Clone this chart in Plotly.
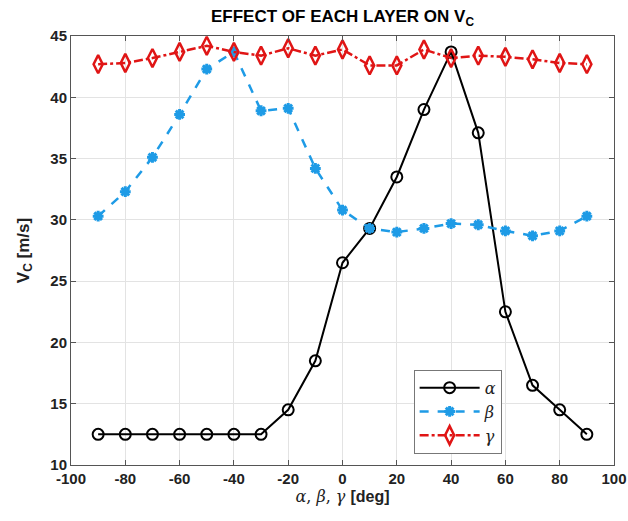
import plotly.graph_objects as go

angles = [-90, -80, -70, -60, -50, -40, -30, -20, -10, 0, 10, 20, 30, 40, 50, 60, 70, 80, 90]
alpha_v = [12.5, 12.5, 12.5, 12.5, 12.5, 12.5, 12.5, 14.5, 18.5, 26.5, 29.3, 33.5, 39.0, 43.7, 37.1, 22.5, 16.5, 14.5, 12.5]
beta_v = [30.3, 32.3, 35.1, 38.6, 42.3, 43.7, 38.9, 39.1, 34.2, 30.8, 29.3, 29.0, 29.3, 29.7, 29.6, 29.1, 28.7, 29.1, 30.3]
gamma_v = [42.7, 42.8, 43.2, 43.7, 44.2, 43.7, 43.4, 44.0, 43.4, 43.9, 42.6, 42.6, 43.9, 43.2, 43.4, 43.3, 43.1, 42.8, 42.7]

x_ticks = [-100, -80, -60, -40, -20, 0, 20, 40, 60, 80, 100]
x_tick_labels = ["-100", "-80", "-60", "-40", "-20", "0", "20", "40", "60", "80", "100"]
y_ticks = [10, 15, 20, 25, 30, 35, 40, 45]
y_tick_labels = ["10", "15", "20", "25", "30", "35", "40", "45"]

greek_font = dict(family="DejaVu Serif", size=16, color="#222", style="italic")

fig = go.Figure()
fig.add_trace(go.Scatter(
    x=angles, y=alpha_v, name="α", mode="lines+markers",
    line=dict(color="black", width=2),
    marker=dict(symbol="circle-open", size=11, color="black", line=dict(width=2)),
))
fig.add_trace(go.Scatter(
    x=angles, y=beta_v, name="β", mode="lines+markers",
    line=dict(color="#1e9be6", width=2.5, dash="dash"),
    marker=dict(symbol="asterisk-open", size=9, color="#1e9be6", line=dict(width=3, color="#1e9be6")),
))
fig.add_trace(go.Scatter(
    x=angles, y=gamma_v, name="γ", mode="lines+markers",
    line=dict(color="#e01515", width=2.5, dash="dashdot"),
    marker=dict(symbol="diamond-tall-open", size=13, color="#e01515", line=dict(width=2.5)),
))

axis_common = dict(
    showline=True, linecolor="#555", linewidth=1, mirror="ticks",
    ticks="inside", ticklen=5, tickcolor="#555",
    showgrid=True, gridcolor="#e3e3e3", gridwidth=1,
    zeroline=False, automargin=False,
    tickfont=dict(family="Liberation Sans", size=15, color="#222", weight="bold"),
)

W, H = 628, 521
L, R, T, B = 71, 14, 36, 56

fig.update_layout(
    width=W, height=H,
    margin=dict(l=L, r=R, t=T, b=B, autoexpand=False),
    paper_bgcolor="white", plot_bgcolor="white",
    title=dict(text="EFFECT OF EACH LAYER ON V<sub>C</sub>", x=(L + (W - L - R) / 2) / W, xanchor="center",
               y=0.98, yanchor="top",
               font=dict(family="Liberation Sans", size=17, color="black", weight="bold")),
    xaxis=dict(range=[-100, 100], tickvals=x_ticks, ticktext=x_tick_labels,
               title=dict(text="<i>α</i>, <i>β</i>, <i>γ</i> <span style='font-family:Liberation Sans'><b>[deg]</b></span>",
                          standoff=4,
                          font=dict(family="DejaVu Serif", size=16, color="#222")),
               **axis_common),
    yaxis=dict(range=[10, 45], tickvals=y_ticks, ticktext=y_tick_labels,
               title=dict(text="<b>V<sub>C</sub> [m/s]</b>", standoff=16,
                          font=dict(family="Liberation Sans", size=17, color="#222")),
               **axis_common),
    legend=dict(x=0.631, y=0.222, xanchor="left", yanchor="top",
                bgcolor="white", bordercolor="#777", borderwidth=1,
                font=greek_font, tracegroupgap=0, itemwidth=60),
    showlegend=True,
)

fig.write_html(
    "out.html",
    config={"displayModeBar": False},
    post_script="document.body.style.margin='0';document.body.style.overflow='hidden';",
)
